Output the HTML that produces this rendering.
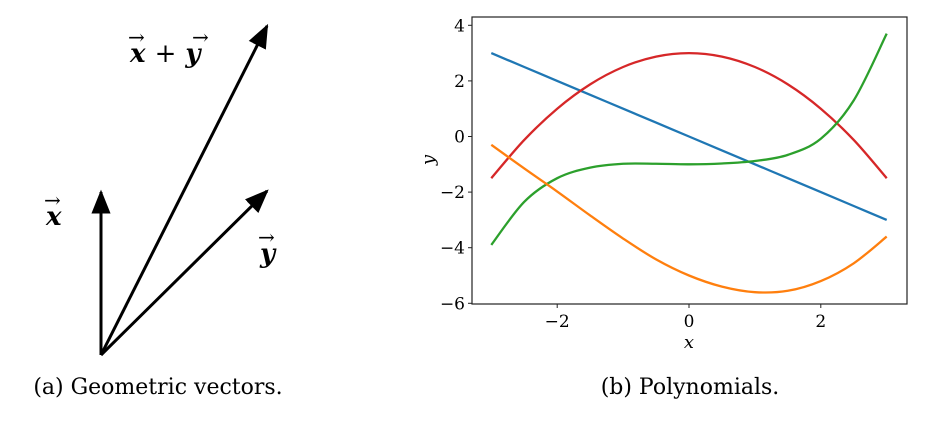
<!DOCTYPE html>
<html><head><meta charset="utf-8"><style>
body{margin:0;background:#fff;width:946px;height:422px;overflow:hidden}
svg text{font-family:"DejaVu Serif","Liberation Serif",serif}
</style></head><body>
<svg width="946" height="422">
<defs>
<marker id="ah2" viewBox="0 0 20 20" refX="18" refY="10" markerWidth="24" markerHeight="24" orient="auto" markerUnits="userSpaceOnUse"><path d="M0,2L20,10L0,18z" fill="#000"/></marker></defs>
<g>
<line x1="101" y1="355" x2="101" y2="192" stroke="#000" stroke-width="3" marker-end="url(#ah2)"/>
<line x1="101" y1="355" x2="267" y2="191" stroke="#000" stroke-width="3" marker-end="url(#ah2)"/>
<line x1="101" y1="355" x2="267" y2="26" stroke="#000" stroke-width="3" marker-end="url(#ah2)"/>
<text x="46" y="225" font-size="26" font-weight="bold" font-style="italic">x</text>
<text x="44" y="207" font-size="20">→</text>
<text x="260" y="262" font-size="26" font-weight="bold" font-style="italic">y</text>
<text x="258" y="244" font-size="20">→</text>
<text x="130" y="62" font-size="26" font-weight="bold" font-style="italic">x <tspan font-weight="normal" font-style="normal">+</tspan> y</text>
<text x="128" y="44" font-size="20">→</text><text x="192" y="44" font-size="20">→</text>
<text x="158" y="394" font-size="22" text-anchor="middle">(a) Geometric vectors.</text>
</g>
<g id="chart"></g>
<text x="690" y="394" font-size="22" text-anchor="middle">(b) Polynomials.</text>
</svg>
<script>
const xs=[-3,-2.5,-2,-1.5,-1,-0.5,0,0.5,1,1.5,2,2.5,3];
const blueVals=[3,2.5,2,1.5,1,0.5,0,-0.5,-1,-1.5,-2,-2.5,-3];
const redVals=[-1.5,-0.125,1,1.875,2.5,2.875,3,2.875,2.5,1.875,1,-0.125,-1.5];
const greenVals=[-3.9,-2.35,-1.5,-1.12,-0.98,-0.98,-1.0,-0.97,-0.88,-0.66,-0.08,1.3,3.7];
const orangeVals=[-0.3,-1.15,-1.98,-2.84,-3.67,-4.42,-5.0,-5.4,-5.6,-5.55,-5.2,-4.56,-3.6];
const xTicks=[-2,0,2];
const yTicks=[4,2,0,-2,-4,-6];
const NS="http://www.w3.org/2000/svg";
const g=document.getElementById('chart');
const X=v=>689+v*65.9, Y=v=>136.5-v*27.8;
function el(t,a){const e=document.createElementNS(NS,t);for(const k in a)e.setAttribute(k,a[k]);g.appendChild(e);return e;}
const fr=el('rect',{x:472,y:17,width:435,height:287,fill:'none',stroke:'#222','stroke-width':1.2});


function path(vals){const p=xs.map((x,i)=>[X(x),Y(vals[i])]);let d='M'+p[0];for(let i=0;i<p.length-1;i++){const a=p[Math.max(i-1,0)],b=p[i],c=p[i+1],e=p[Math.min(i+2,p.length-1)];d+=' C'+(b[0]+(c[0]-a[0])/6)+','+(b[1]+(c[1]-a[1])/6)+' '+(c[0]-(e[0]-b[0])/6)+','+(c[1]-(e[1]-b[1])/6)+' '+c[0]+','+c[1];}return d;}
[[blueVals,'#1f77b4','line-blue'],[redVals,'#d62728','curve-red'],[greenVals,'#2ca02c','curve-green'],[orangeVals,'#ff7f0e','curve-orange']].forEach(s=>{
const e=el('path',{d:path(s[0]),fill:'none',stroke:s[1],'stroke-width':2.3});

});
xTicks.forEach(t=>{el('line',{x1:X(t),x2:X(t),y1:304,y2:308,stroke:'#222'});
const e=el('text',{x:X(t),y:327,'font-size':17,'text-anchor':'middle'});e.textContent=t<0?'−'+(-t):t;

});
yTicks.forEach(t=>{el('line',{x1:468,x2:472,y1:Y(t),y2:Y(t),stroke:'#222'});
const e=el('text',{x:465,y:Y(t)+6,'font-size':17,'text-anchor':'end'});e.textContent=t<0?'−'+(-t):t;

});
const xl=el('text',{x:689,y:348,'font-size':18,'font-style':'italic','text-anchor':'middle'});xl.textContent='x';


const yl=el('text',{x:434,y:160,'font-size':18,'font-style':'italic','text-anchor':'middle',transform:'rotate(-90 434 160)'});yl.textContent='y';


</script>
</body></html>
